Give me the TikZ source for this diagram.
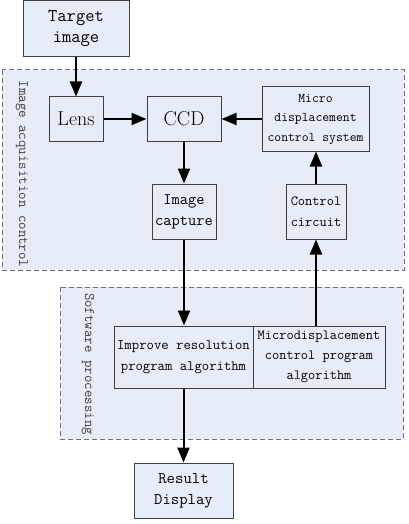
\documentclass[tikz,border=0pt]{standalone}
\usetikzlibrary{arrows.meta}
\definecolor{boxfill}{RGB}{231,237,248}
\definecolor{boxline}{RGB}{64,64,64}
\definecolor{zoneline}{RGB}{112,112,112}
\tikzset{every picture/.style={line width=0.75pt}}
\tikzset{
  block/.style={draw=boxline, fill=boxfill, line width=1pt, inner sep=0pt, align=center, font=\ttfamily},
  zone/.style={draw=zoneline, fill=boxfill, line width=1pt, dash pattern=on 5pt off 3pt},
  zonelabel/.style={rotate=-90, text=boxline, font=\ttfamily\fontsize{14.5}{16}\selectfont},
  flow/.style={line width=2pt, -{Triangle[length=15pt,width=12pt]}}
}

\begin{document}
\begin{tikzpicture}[x=1pt,y=1pt,yscale=-1,xscale=1]
	\useasboundingbox (0,0) rectangle (408,524);

	%Shape: Dashed Rectangle [image acquisition]
	\draw [zone] (2,70) rectangle (404,270) ;
	%Shape: Dashed Rectangle [software]
	\draw [zone] (60,287) rectangle (403,439) ;

	% Text Node
	\node [zonelabel] (acqlabel) at (22,174) {Image acquisition control};
	% Text Node
	\node [zonelabel] (softlabel) at (88,364) {Software processing};

	% Block Nodes
	\node [block, minimum width=106, minimum height=56, font=\ttfamily\fontsize{18}{21}\selectfont] (target) at (76,29) {Target\\image};
	\node [block, minimum width=54, minimum height=44, font=\rmfamily\fontsize{20}{22}\selectfont] (lens) at (76,119) {Lens};
	\node [block, minimum width=74, minimum height=44, font=\rmfamily\fontsize{20}{22}\selectfont] (ccd) at (184,119) {CCD};
	\node [block, minimum width=107, minimum height=64, font=\ttfamily\fontsize{13.3}{19.5}\selectfont] (microsys) at (315.5,119) {Micro\\displacement\\control system};
	\node [block, minimum width=64, minimum height=55, font=\ttfamily\fontsize{16}{21}\selectfont] (capture) at (184,211.5) {Image\\capture};
	\node [block, minimum width=60, minimum height=55, font=\ttfamily\fontsize{14}{21}\selectfont] (circuit) at (316,211.5) {Control\\circuit};
	\node [block, minimum width=139, minimum height=62, font=\ttfamily\fontsize{14.3}{21}\selectfont] (improve) at (183.5,357) {Improve resolution\\program algorithm};
	\node [block, minimum width=132, minimum height=62, font=\ttfamily\fontsize{14}{20}\selectfont] (microprog) at (319,357) {Microdisplacement\\control program\\algorithm};
	\node [block, minimum width=99, minimum height=55, font=\ttfamily\fontsize{16.3}{21}\selectfont] (result) at (183.5,490.5) {Result\\Display};

	%Straight Lines
	\draw [flow] (target) -- (lens) ;
	\draw [flow] (lens) -- (ccd) ;
	\draw [flow] (microsys) -- (ccd) ;
	\draw [flow] (ccd) -- (capture) ;
	\draw [flow] (circuit.north) -- (circuit.north |- microsys.south) ;
	\draw [flow] (capture.south) -- (capture.south |- improve.north) ;
	\draw [flow] (circuit.south |- microprog.north) -- (circuit.south) ;
	\draw [flow] (improve) -- (result) ;

\end{tikzpicture}
\end{document}
